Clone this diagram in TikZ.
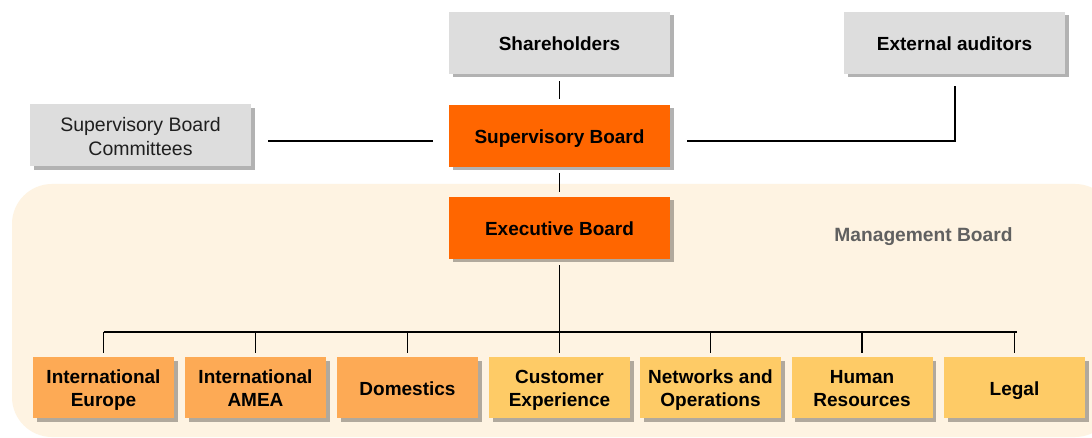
\documentclass[tikz,border=0pt]{standalone}
\usepackage{fontspec}
\setmainfont{Liberation Sans}
\usetikzlibrary{shadows}
\definecolor{boardorange}{HTML}{FF6600}
\definecolor{unitdark}{HTML}{FDAA55}
\definecolor{unitlight}{HTML}{FECB66}
\definecolor{greybox}{HTML}{DDDDDD}
\definecolor{mgmtbg}{HTML}{FEF3E2}
\definecolor{mgmttext}{HTML}{606060}
\newcommand{\ls}{\rule[-3.7pt]{0pt}{23pt}}
\begin{document}
\begin{tikzpicture}[x=1pt,y=-1pt,
  boxbase/.style={rectangle, inner sep=0pt, align=center,
    font=\fontsize{19}{23}\selectfont,
    drop shadow={shadow xshift=3.5pt, shadow yshift=-3.5pt, fill=black, opacity=0.3}},
  topbox/.style={boxbase, minimum width=221pt, minimum height=62pt},
  greyb/.style={topbox, fill=greybox},
  boardb/.style={topbox, fill=boardorange, font=\fontsize{19}{23}\selectfont\bfseries},
  unitbox/.style={boxbase, minimum width=141pt, minimum height=61pt, font=\fontsize{19}{23}\selectfont\bfseries},
  unitA/.style={unitbox, fill=unitdark},
  unitB/.style={unitbox, fill=unitlight},
  conn/.style={draw=black, line width=1.3pt}
]
\useasboundingbox (0,0) rectangle (1092,438);
\fill[white] (0,0) rectangle (1092,438);
% management background
\begin{scope}
\clip (0,0) rectangle (1092,438);
\fill[mgmtbg, rounded corners=40pt] (12,184) rectangle (1115,437);
\end{scope}
\node[font=\fontsize{19.2}{23}\selectfont\bfseries, text=mgmttext] (mgmt) at (923.5,237) {Management Board};

% top boxes
\node[greyb, font=\fontsize{19}{23}\selectfont\bfseries] (sh) at (559.5,43) {\ls Shareholders};
\node[greyb, font=\fontsize{19}{23}\selectfont\bfseries] (ea) at (954.5,43) {\ls External auditors};
\node[greyb, text=black!88, font=\fontsize{19.5}{23}\selectfont] (sbc) at (140.5,135.5) {\ls Supervisory Board\\\ls Committees};
\node[boardb] (sb) at (559.5,136) {\ls Supervisory Board};
\node[boardb] (eb) at (559.5,228) {\ls Executive Board};

% units
\node[unitA] (u1) at (103.5,387.5) {\ls International\\\ls Europe};
\node[unitA] (u2) at (255.5,387.5) {\ls International\\\ls AMEA};
\node[unitA] (u3) at (407.5,387.5) {\ls Domestics};
\node[unitB] (u4) at (559.5,387.5) {\ls Customer\\\ls Experience};
\node[unitB] (u5) at (710.5,387.5) {\ls Networks and\\\ls Operations};
\node[unitB] (u6) at (862,387.5) {\ls Human\\\ls Resources};
\node[unitB] (u7) at (1014.5,387.5) {\ls Legal};

% connectors
\coordinate (sbL) at (433,141);
\coordinate (sbR) at (687,141);
\coordinate (sbcR) at (268,141);
\coordinate (eaB) at (955,86);
\coordinate (busL) at (103.5,332);
\coordinate (busR) at (1016.5,332);

\draw[conn] ([yshift=-7pt]sh.south) -- ([yshift=6pt]sb.north);
\draw[conn] ([yshift=-6pt]sb.south) -- ([yshift=5pt]eb.north);
\draw[conn] (sbcR) -- (sbL);
\draw[conn] (sbR) -| (eaB);
\draw[conn] ([yshift=-6pt]eb.south) -- ([yshift=4pt]u4.north);
\draw[conn] (busL) -- (busR);
\foreach \u in {u1,u2,u3,u5,u6,u7}{
  \draw[conn] (busL -| \u.north) -- ([yshift=4pt]\u.north);
}
\end{tikzpicture}
\end{document}
